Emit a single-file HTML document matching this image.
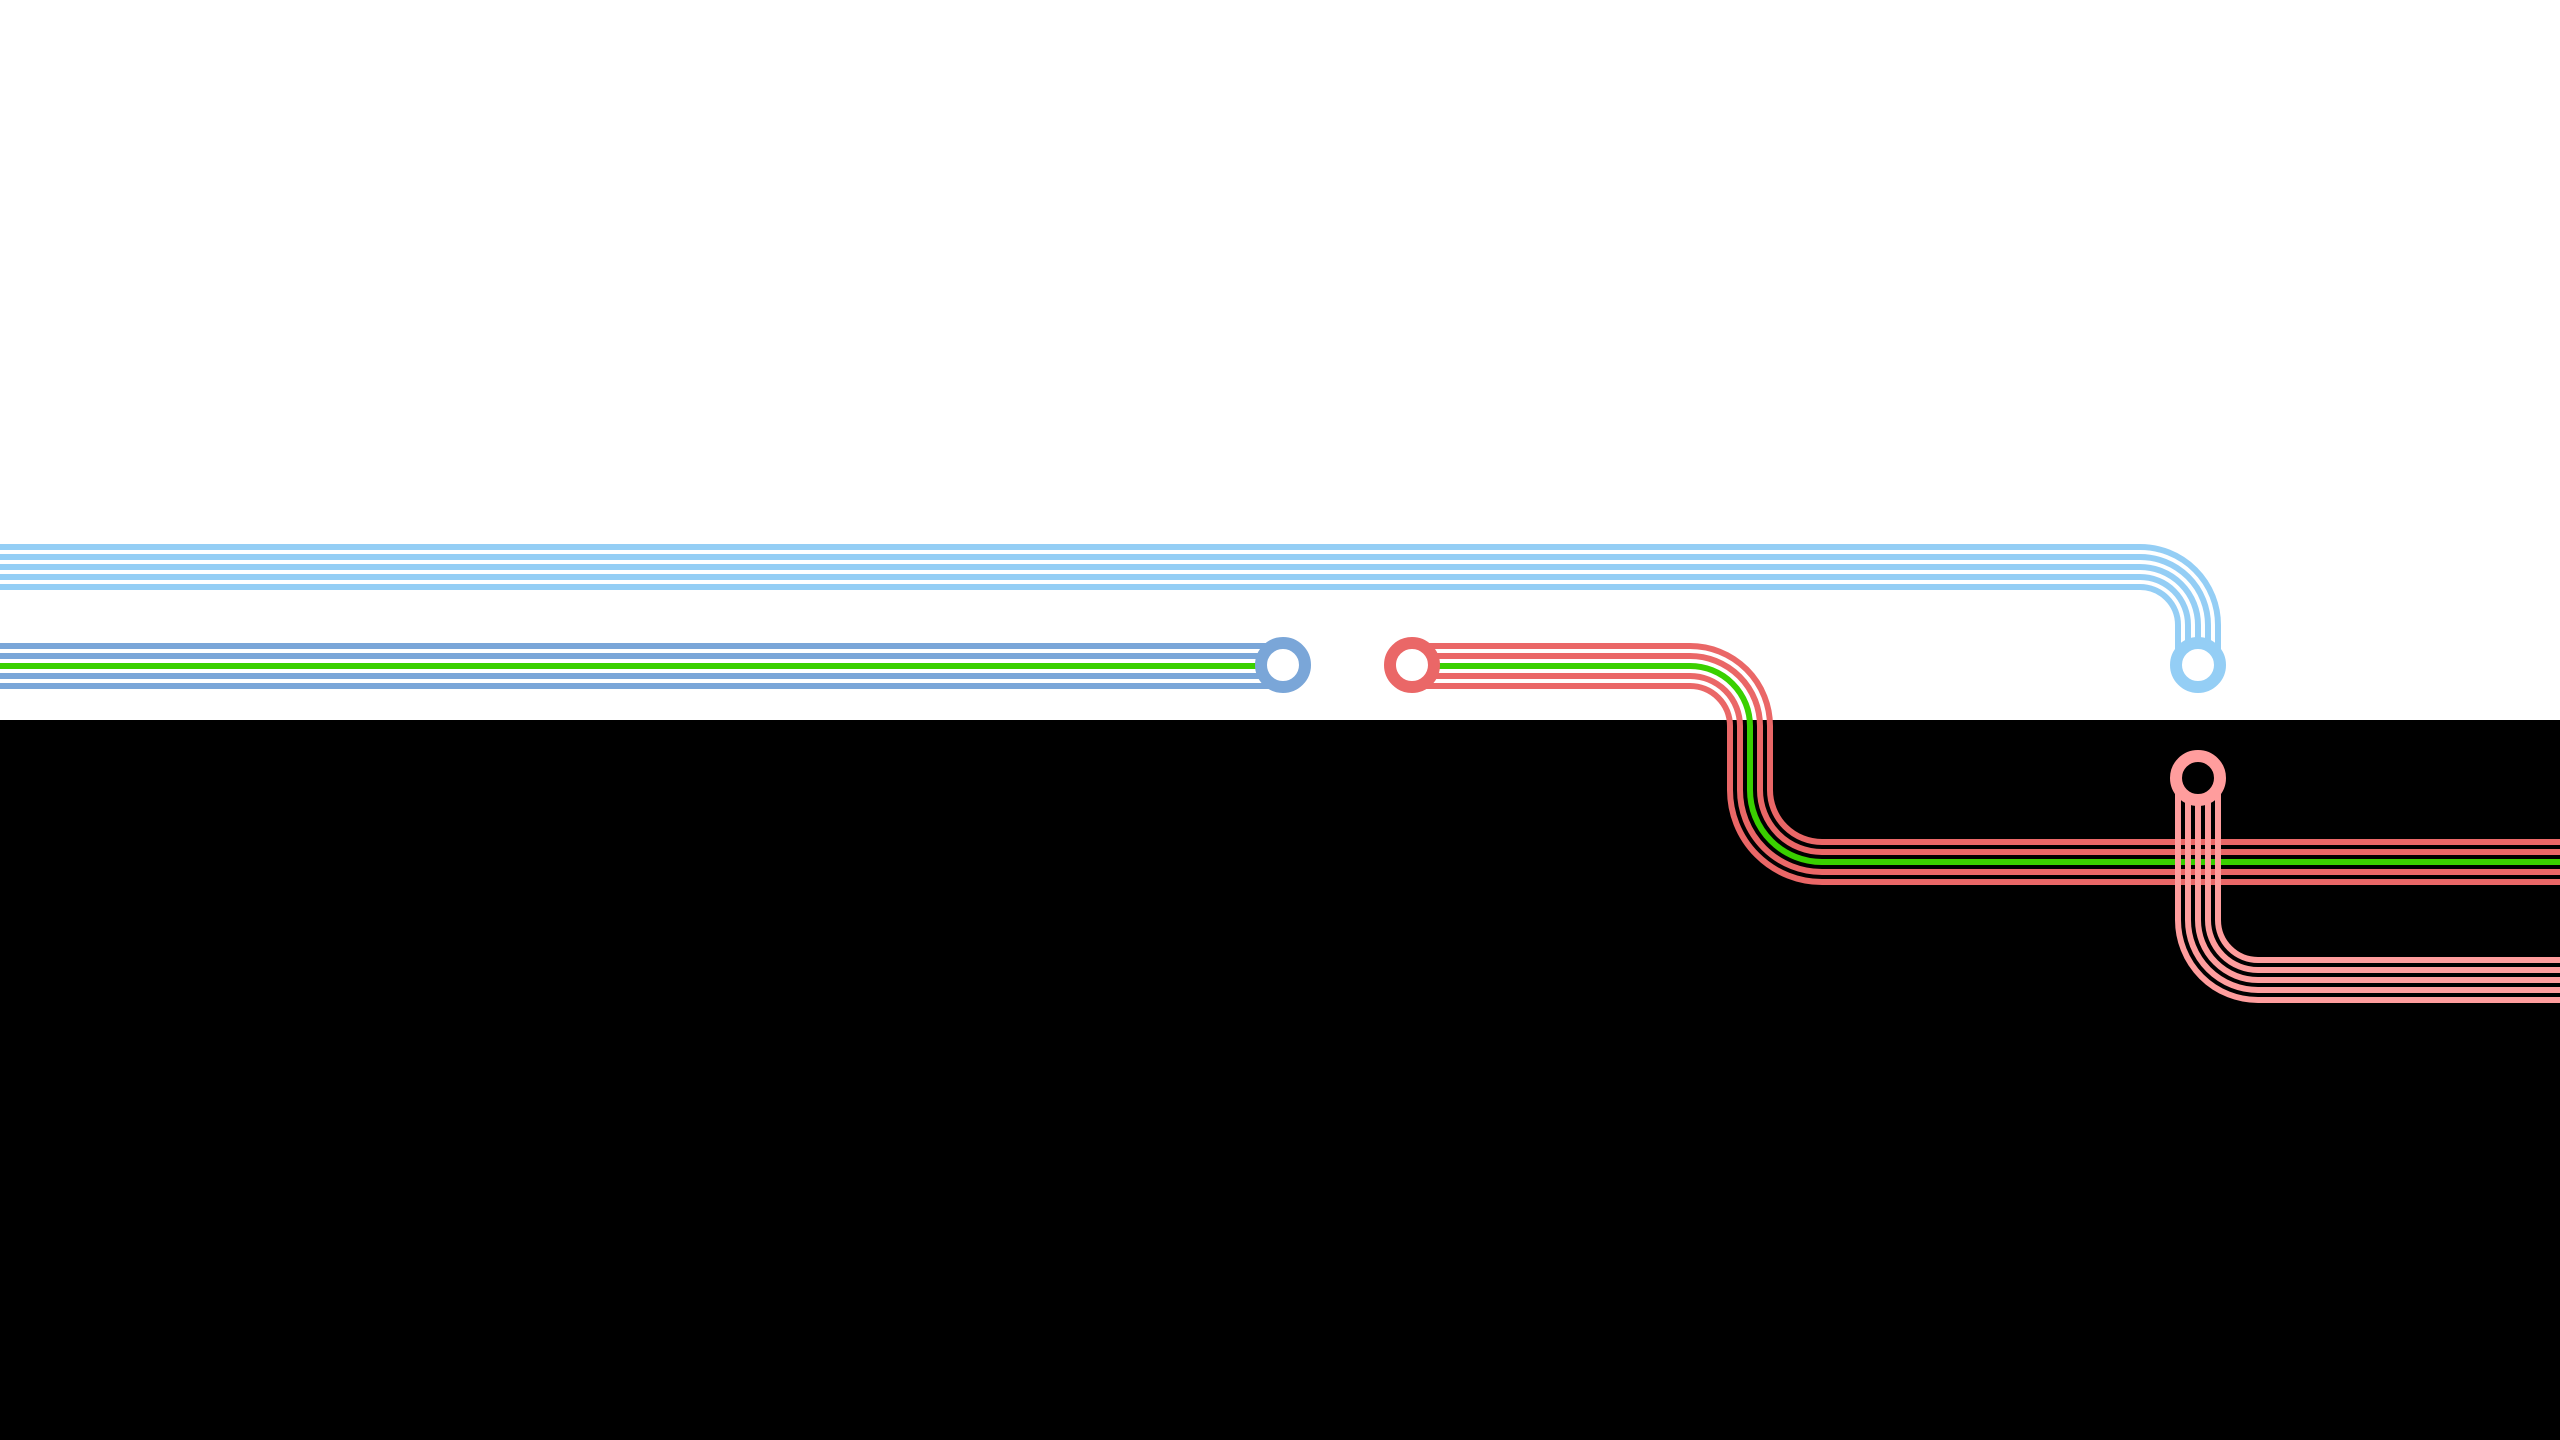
<!DOCTYPE html>
<html><head><meta charset="utf-8"><style>html,body{margin:0;padding:0;background:#fff}svg{display:block}</style></head>
<body>
<svg width="2560" height="1440" viewBox="0 0 2560 1440" xmlns="http://www.w3.org/2000/svg">
<rect x="0" y="0" width="2560" height="720" fill="#fff"/>
<rect x="0" y="720" width="2560" height="720" fill="#000"/>
<g fill="none" stroke-width="6">
<g stroke="#94cef5">
<path d="M0 547 H2140 A78 78 0 0 1 2218 625 V650"/>
<path d="M0 557 H2140 A68 68 0 0 1 2208 625 V650"/>
<path d="M0 567 H2140 A58 58 0 0 1 2198 625 V650"/>
<path d="M0 577 H2140 A48 48 0 0 1 2188 625 V650"/>
<path d="M0 587 H2140 A38 38 0 0 1 2178 625 V650"/>
</g>
<path d="M0 646 H1275" stroke="#7aa6d8"/>
<path d="M0 656 H1275" stroke="#7aa6d8"/>
<path d="M0 666 H1275" stroke="#3ad000"/>
<path d="M0 676 H1275" stroke="#7aa6d8"/>
<path d="M0 686 H1275" stroke="#7aa6d8"/>
<path d="M1412 646 H1690 A80 80 0 0 1 1770 726 V790 A52 52 0 0 0 1822 842 H2560" stroke="#ea6767"/>
<path d="M1412 656 H1690 A70 70 0 0 1 1760 726 V790 A62 62 0 0 0 1822 852 H2560" stroke="#ea6767"/>
<path d="M1412 666 H1690 A60 60 0 0 1 1750 726 V790 A72 72 0 0 0 1822 862 H2560" stroke="#3ad000"/>
<path d="M1412 676 H1690 A50 50 0 0 1 1740 726 V790 A82 82 0 0 0 1822 872 H2560" stroke="#ea6767"/>
<path d="M1412 686 H1690 A40 40 0 0 1 1730 726 V790 A92 92 0 0 0 1822 882 H2560" stroke="#ea6767"/>
<g stroke="#ff9d9d">
<path d="M2218 790 V920 A40 40 0 0 0 2258 960 H2560"/>
<path d="M2208 790 V920 A50 50 0 0 0 2258 970 H2560"/>
<path d="M2198 790 V920 A60 60 0 0 0 2258 980 H2560"/>
<path d="M2188 790 V920 A70 70 0 0 0 2258 990 H2560"/>
<path d="M2178 790 V920 A80 80 0 0 0 2258 1000 H2560"/>
</g>
</g>
<circle cx="1283" cy="665" r="22" fill="#fff" stroke="#7aa6d8" stroke-width="12"/>
<circle cx="1412" cy="665" r="22" fill="#fff" stroke="#ea6767" stroke-width="12"/>
<circle cx="2198" cy="665" r="22" fill="#fff" stroke="#94cef5" stroke-width="12"/>
<circle cx="2198" cy="778" r="22" fill="#000" stroke="#ff9d9d" stroke-width="12"/>
</svg>
</body></html>
